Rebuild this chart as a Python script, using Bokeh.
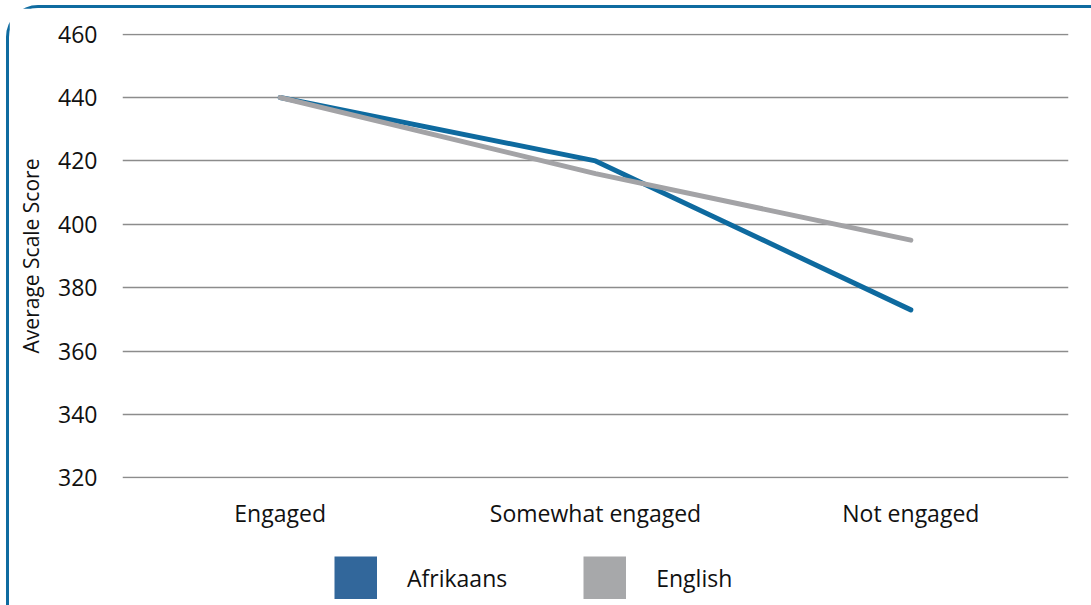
from bokeh.plotting import figure
from bokeh.layouts import column
from bokeh.models import (Legend, LegendItem, FactorRange, Range1d,
                          ColumnDataSource, FixedTicker)
from bokeh.embed import file_html
from bokeh.resources import INLINE

categories = ["Engaged", "Somewhat engaged", "Not engaged"]
afrikaans = [440, 420, 373]
english = [440, 416, 395]
y_ticks = [320, 340, 360, 380, 400, 420, 440, 460]
series_names = ["Afrikaans", "English"]

FONT = "Open Sans"
BLUE_LINE = "#0E6A9F"
BLUE_SWATCH = "#32679B"
GRAY_LINE = "#A3A3A6"
GRAY_SWATCH = "#A7A8AA"
TEXT = "#111111"

src = ColumnDataSource(dict(cat=categories, afr=afrikaans, eng=english))

# ---- main chart ----
p = figure(width=1082, height=535,
           x_range=FactorRange(*categories, range_padding=0),
           y_range=Range1d(319.8, 460.2),
           output_backend="svg", toolbar_location=None,
           min_border_left=113, min_border_right=23,
           min_border_top=25, min_border_bottom=65)
p.outline_line_color = None
p.background_fill_color = "white"
p.border_fill_color = "white"

p.line("cat", "afr", source=src, line_color=BLUE_LINE, line_width=5,
       line_cap="round", line_join="round")
p.line("cat", "eng", source=src, line_color=GRAY_LINE, line_width=5,
       line_cap="round", line_join="round")

p.xgrid.grid_line_color = None
p.ygrid.ticker = FixedTicker(ticks=y_ticks)
p.ygrid.grid_line_color = "#8C8C8C"
p.ygrid.grid_line_width = 1.5

for ax in (p.xaxis[0], p.yaxis[0]):
    ax.axis_line_color = None
    ax.major_tick_line_color = None
    ax.minor_tick_line_color = None
    ax.major_tick_out = 0
    ax.major_tick_in = 0
    ax.major_label_text_font = FONT
    ax.major_label_text_font_size = "23px"
    ax.major_label_text_color = TEXT

p.yaxis.ticker = FixedTicker(ticks=y_ticks)
p.yaxis.major_label_standoff = 25
p.yaxis.axis_label = "Average Scale Score"
p.yaxis.axis_label_text_font = FONT
p.yaxis.axis_label_text_font_size = "21px"
p.yaxis.axis_label_text_font_style = "normal"
p.yaxis.axis_label_text_color = TEXT
p.yaxis.axis_label_standoff = 10
p.xaxis.major_label_standoff = 18

# ---- legend strip (series drawn far outside its view; only the legend shows) ----
lg = figure(width=1082, height=62,
            x_range=FactorRange(*categories, range_padding=0), y_range=Range1d(0, 1),
            output_backend="svg", toolbar_location=None,
            x_axis_type=None, y_axis_type=None,
            min_border=0, min_border_left=0, min_border_right=0,
            min_border_top=0, min_border_bottom=0)
lg.outline_line_color = None
lg.xgrid.visible = False
lg.ygrid.visible = False
lg.border_fill_color = "white"

sw_afr = lg.line("cat", "afr", source=src, line_color=BLUE_SWATCH, line_width=43, line_cap="butt")
sw_eng = lg.line("cat", "eng", source=src, line_color=GRAY_SWATCH, line_width=43, line_cap="butt")

legend = Legend(items=[LegendItem(label=series_names[0], renderers=[sw_afr]),
                       LegendItem(label=series_names[1], renderers=[sw_eng])],
                orientation="horizontal", location=(212, 6),
                glyph_width=43, glyph_height=43, label_standoff=30, spacing=76,
                padding=0, margin=0, border_line_alpha=0, background_fill_alpha=0,
                label_text_font=FONT, label_text_font_size="23px", label_text_color=TEXT)
lg.add_layout(legend, "center")

layout = column(p, lg, spacing=0)
layout.styles = {"margin-left": "6px", "margin-top": "5px",
                 "border-left": "3px solid #0E6BA0", "border-top": "3px solid #0E6BA0",
                 "border-top-left-radius": "32px", "background": "white"}

open("out.html", "w").write(file_html(layout, INLINE))
